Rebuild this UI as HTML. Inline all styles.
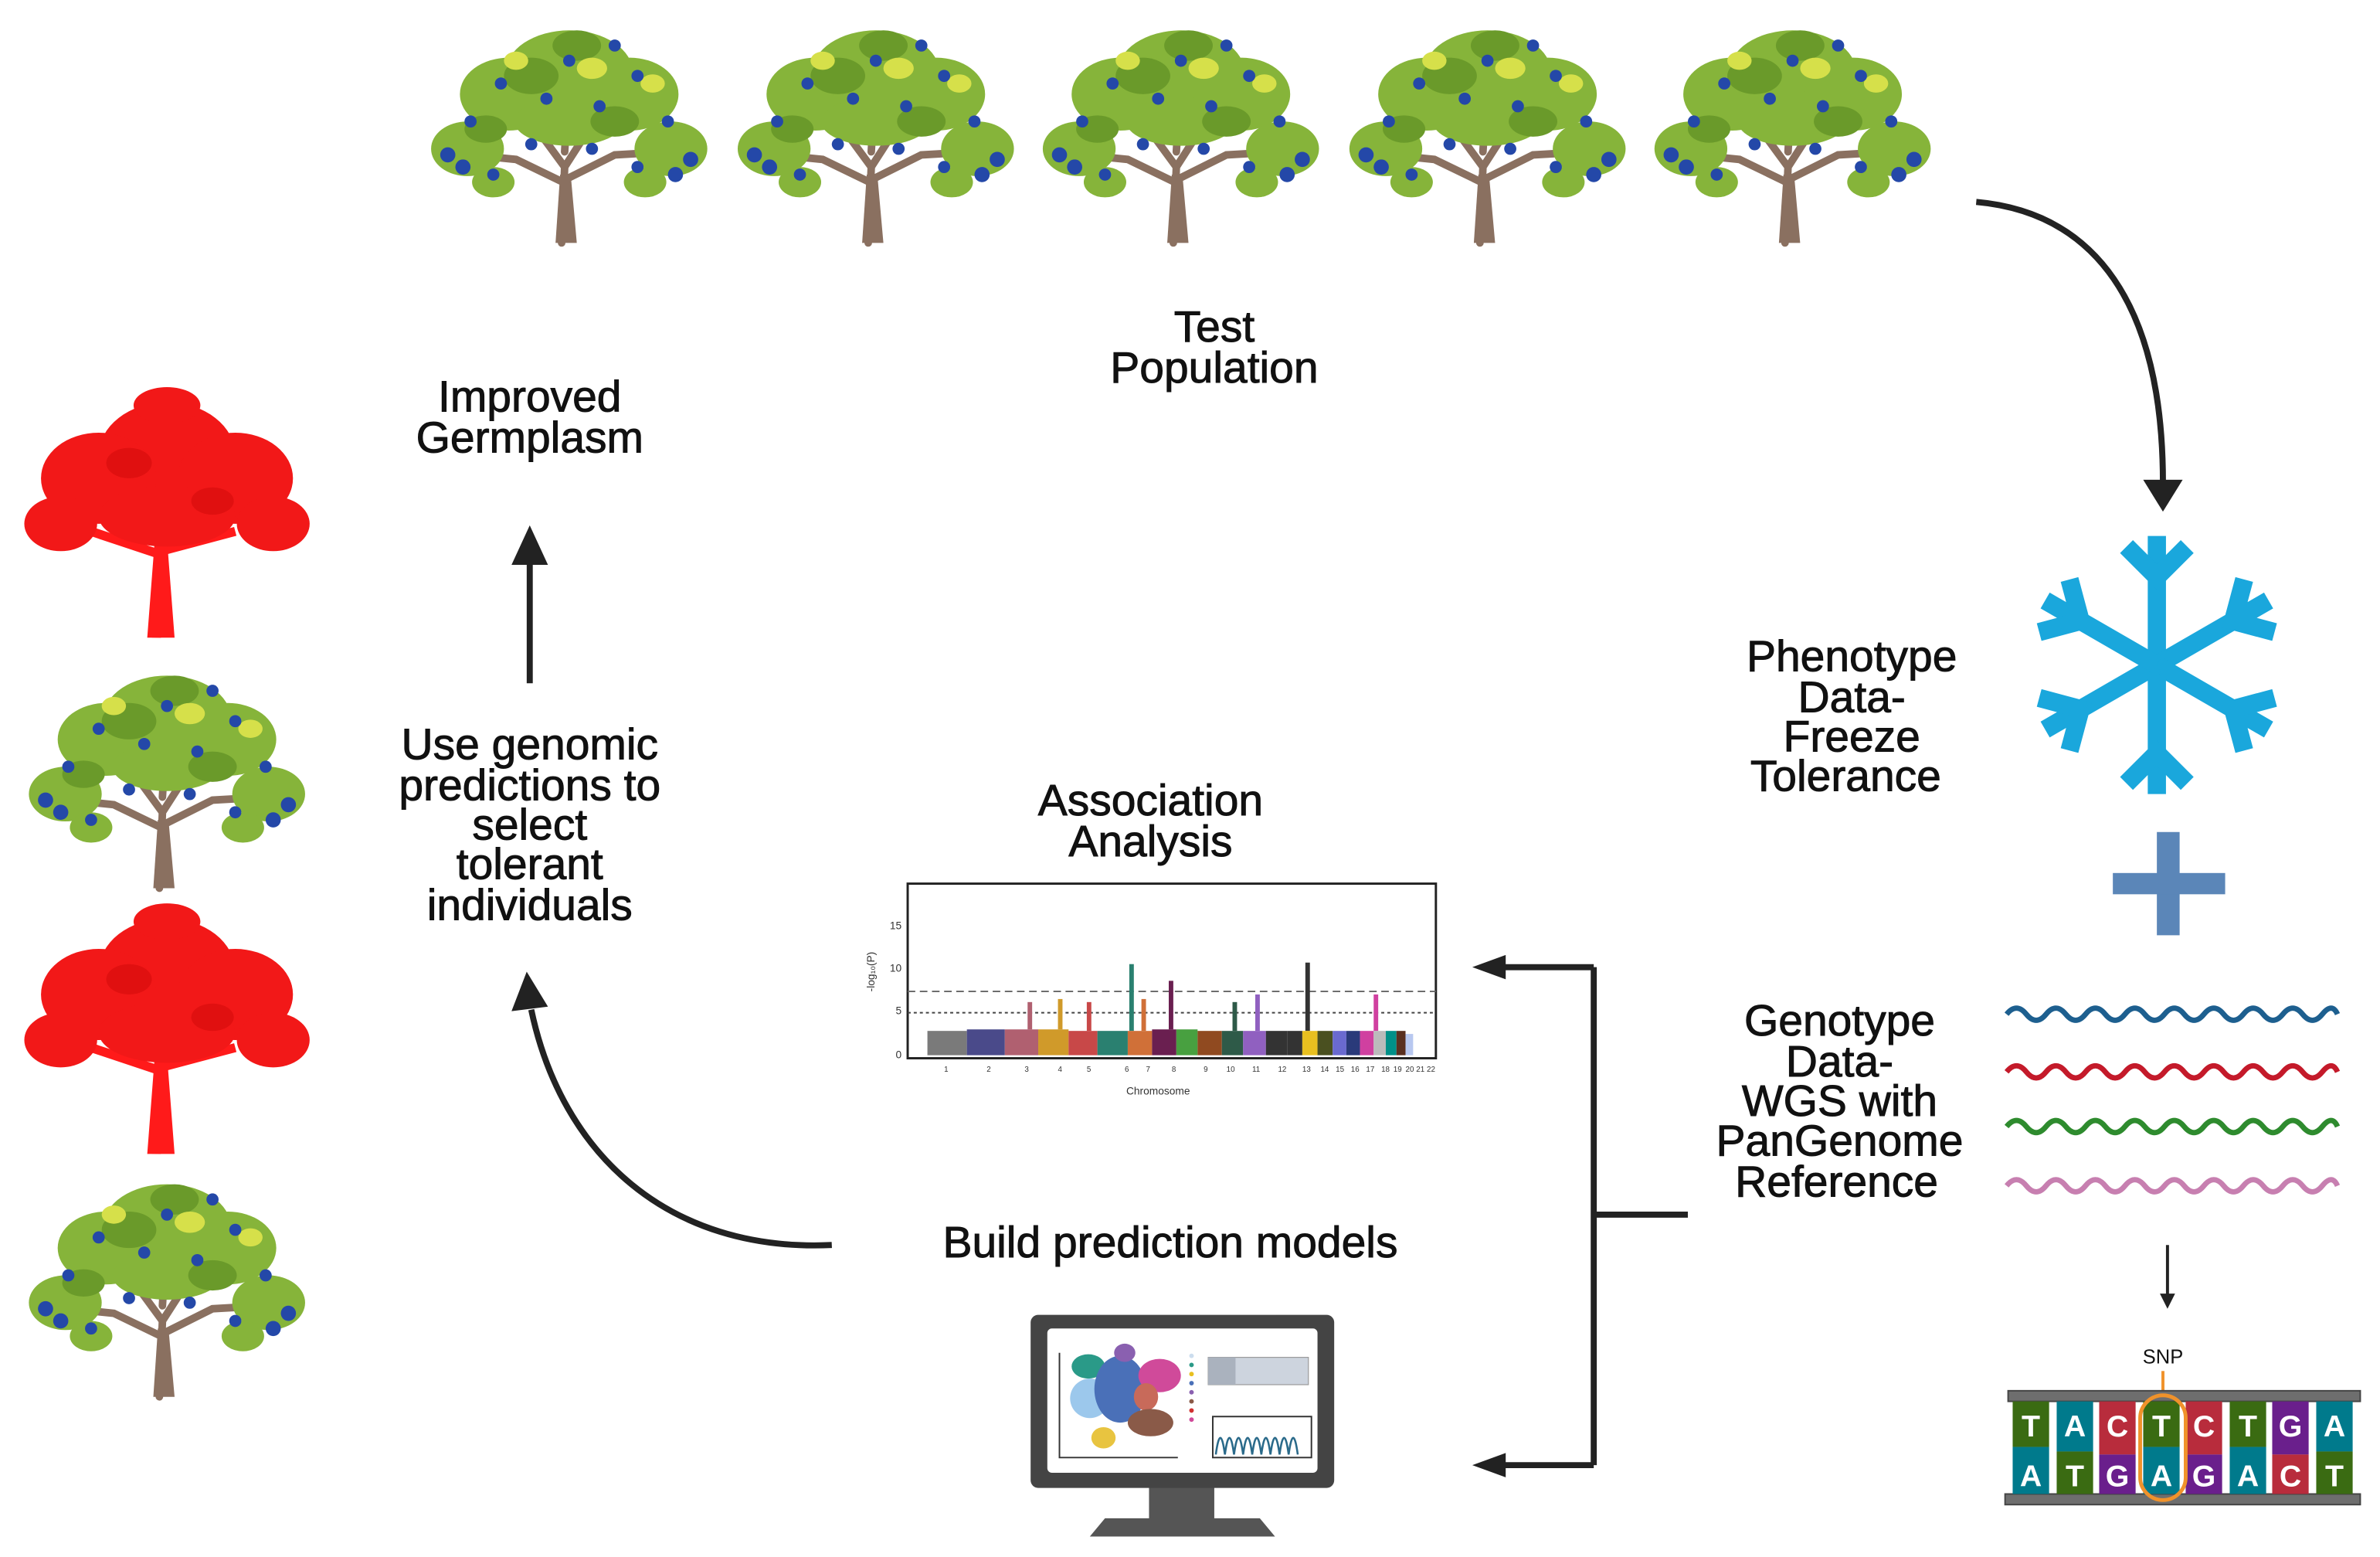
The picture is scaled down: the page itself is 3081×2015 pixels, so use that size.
<!DOCTYPE html>
<html><head><meta charset="utf-8"><style>
html,body{margin:0;padding:0;background:#fff}
svg{display:block}
text{font-family:"Liberation Sans",Arial,sans-serif}
</style></head><body>
<svg width="3081" height="2015" viewBox="0 0 1568 1025.5" xmlns="http://www.w3.org/2000/svg">
<defs>
<g id="tree">
 <path d="M90 150 L92 100 L70 70 L50 55 M92 100 L110 72 L135 55 M91 110 L60 95 L30 92 M93 108 L125 92 L160 90 M92 90 L95 40" stroke="#8a7060" stroke-width="5" fill="none" stroke-linecap="round"/>
 <path d="M86 150 L89 105 L96 105 L100 150 Z" fill="#8a7060"/>
 <g fill="#86b43a">
  <ellipse cx="95" cy="38" rx="42" ry="28"/><ellipse cx="55" cy="52" rx="32" ry="24"/><ellipse cx="135" cy="52" rx="32" ry="24"/>
  <ellipse cx="28" cy="88" rx="24" ry="18"/><ellipse cx="162" cy="88" rx="24" ry="18"/><ellipse cx="95" cy="70" rx="36" ry="16"/>
  <ellipse cx="45" cy="110" rx="14" ry="10"/><ellipse cx="145" cy="110" rx="14" ry="10"/>
 </g>
 <g fill="#6a9a2a"><ellipse cx="70" cy="40" rx="18" ry="12"/><ellipse cx="125" cy="70" rx="16" ry="10"/><ellipse cx="40" cy="75" rx="14" ry="9"/><ellipse cx="100" cy="20" rx="16" ry="10"/></g>
 <g fill="#d6e04a"><ellipse cx="110" cy="35" rx="10" ry="7"/><ellipse cx="60" cy="30" rx="8" ry="6"/><ellipse cx="150" cy="45" rx="8" ry="6"/></g>
 <g fill="#2448a8"><circle cx="15" cy="92" r="5"/><circle cx="25" cy="100" r="5"/><circle cx="175" cy="95" r="5"/><circle cx="165" cy="105" r="5"/><circle cx="45" cy="105" r="4"/><circle cx="140" cy="100" r="4"/><circle cx="80" cy="55" r="4"/><circle cx="115" cy="60" r="4"/><circle cx="95" cy="30" r="4"/><circle cx="50" cy="45" r="4"/><circle cx="140" cy="40" r="4"/><circle cx="125" cy="20" r="4"/><circle cx="30" cy="70" r="4"/><circle cx="160" cy="70" r="4"/><circle cx="70" cy="85" r="4"/><circle cx="110" cy="88" r="4"/></g>
</g>
<g id="redtree">
 <path d="M88 165 L90 100 L65 70 M90 100 L115 70 M90 110 L45 95 M91 108 L140 95" stroke="#ff1a1a" stroke-width="6" fill="none"/>
 <path d="M82 165 L87 100 L95 100 L100 165 Z" fill="#ff1a1a"/>
 <g fill="#f21818">
  <ellipse cx="95" cy="45" rx="45" ry="35"/><ellipse cx="50" cy="60" rx="38" ry="30"/><ellipse cx="140" cy="60" rx="38" ry="30"/>
  <ellipse cx="25" cy="90" rx="24" ry="18"/><ellipse cx="165" cy="90" rx="24" ry="18"/><ellipse cx="95" cy="85" rx="45" ry="20"/><ellipse cx="95" cy="12" rx="22" ry="12"/>
 </g>
 <g fill="#e01010"><ellipse cx="70" cy="50" rx="15" ry="10"/><ellipse cx="125" cy="75" rx="14" ry="9"/></g>
</g>
</defs>

<use href="#tree" x="280" y="10"/><use href="#tree" x="482" y="10"/><use href="#tree" x="683" y="10"/><use href="#tree" x="885" y="10"/><use href="#tree" x="1086" y="10"/>
<use href="#redtree" x="15" y="255"/>
<use href="#tree" x="15" y="435"/>
<use href="#redtree" x="15" y="595"/>
<use href="#tree" x="15" y="770"/>

<g font-size="29" fill="#111" text-anchor="middle" stroke="#111" stroke-width="0.5">
 <text x="800" y="225">Test</text><text x="800" y="252">Population</text>
 <text x="349" y="271">Improved</text><text x="349" y="298">Germplasm</text>
 <text x="349" y="500">Use genomic</text><text x="349" y="527">predictions to</text><text x="349" y="553">select</text><text x="349" y="579">tolerant</text><text x="349" y="606">individuals</text>
 <text x="758" y="537">Association</text><text x="758" y="564">Analysis</text>
 <text x="771" y="828">Build prediction models</text>
 <text x="1220" y="442">Phenotype</text><text x="1220" y="469">Data-</text><text x="1220" y="495">Freeze</text><text x="1216" y="521">Tolerance</text>
 <text x="1212" y="682">Genotype</text><text x="1212" y="709">Data-</text><text x="1212" y="735">WGS with</text><text x="1212" y="761">PanGenome</text><text x="1210" y="788">Reference</text>
</g>

<g stroke="#222" stroke-width="4" fill="none">
 <path d="M1302 133 C1380 140 1425 200 1425 318"/>
 <line x1="349" y1="450" x2="349" y2="370"/>
 <path d="M548 820 C440 825 370 760 350 665"/>
 <path d="M1050 637 L1050 965 M1050 637 L990 637 M1050 965 L990 965 M1050 800 L1112 800"/>
</g>
<g fill="#222">
 <path d="M1412 316 L1438 316 L1425 337 Z"/>
 <path d="M337 372 L361 372 L349 346 Z"/>
 <path d="M337 666 L361 663 L347 640 Z"/>
 <path d="M992 629 L992 645 L970 637 Z"/>
 <path d="M992 957 L992 973 L970 965 Z"/>
 <path d="M1423 852 L1433 852 L1428 862 Z"/>
</g>
<line x1="1428" y1="820" x2="1428" y2="855" stroke="#222" stroke-width="2"/>

<g stroke="#1aa7dc" stroke-width="12" stroke-linecap="butt" fill="none" transform="translate(1421,438)">
 <g id="arm"><line x1="0" y1="0" x2="0" y2="-85"/><path d="M-20 -78 L0 -58 L20 -78"/></g>
 <use href="#arm" transform="rotate(60)"/><use href="#arm" transform="rotate(120)"/><use href="#arm" transform="rotate(180)"/><use href="#arm" transform="rotate(240)"/><use href="#arm" transform="rotate(300)"/>
</g>
<rect x="1421" y="548" width="15" height="68" fill="#5b86b8"/>
<rect x="1392" y="575" width="74" height="14" fill="#5b86b8"/>

<g fill="none" stroke-width="3.5">
 <path stroke="#1d5f8f" d="M1322 668 q6.5 -8 13 0 t13 0 t13 0 t13 0 t13 0 t13 0 t13 0 t13 0 t13 0 t13 0 t13 0 t13 0 t13 0 t13 0 t13 0 t13 0 t10 0"/>
 <path stroke="#c41a2a" d="M1322 706 q6.5 -8 13 0 t13 0 t13 0 t13 0 t13 0 t13 0 t13 0 t13 0 t13 0 t13 0 t13 0 t13 0 t13 0 t13 0 t13 0 t13 0 t10 0"/>
 <path stroke="#2e8b2e" d="M1322 742 q6.5 -8 13 0 t13 0 t13 0 t13 0 t13 0 t13 0 t13 0 t13 0 t13 0 t13 0 t13 0 t13 0 t13 0 t13 0 t13 0 t13 0 t10 0"/>
 <path stroke="#c77fb0" d="M1322 781 q6.5 -8 13 0 t13 0 t13 0 t13 0 t13 0 t13 0 t13 0 t13 0 t13 0 t13 0 t13 0 t13 0 t13 0 t13 0 t13 0 t13 0 t10 0"/>
</g>

<text x="1425" y="898" font-size="13" text-anchor="middle" fill="#111">SNP</text>
<line x1="1425" y1="903" x2="1425" y2="918" stroke="#f0922b" stroke-width="2"/>
<rect x="1323" y="916" width="232" height="7" fill="#6e6e6e" stroke="#444" stroke-width="1"/>
<rect x="1321" y="984" width="234" height="7" fill="#6e6e6e" stroke="#444" stroke-width="1"/>
<g font-size="20" fill="#fff" text-anchor="middle" font-weight="bold">
 <rect x="1326" y="923" width="24" height="30" fill="#3a6b12"/><text x="1338" y="946">T</text><rect x="1326" y="953" width="24" height="31" fill="#007a8c"/><text x="1338" y="979">A</text>
 <rect x="1355" y="923" width="24" height="33" fill="#007a8c"/><text x="1367" y="946">A</text><rect x="1355" y="956" width="24" height="28" fill="#3a6b12"/><text x="1367" y="979">T</text>
 <rect x="1383" y="923" width="24" height="35" fill="#b82c3c"/><text x="1395" y="946">C</text><rect x="1383" y="958" width="24" height="26" fill="#6a1f8c"/><text x="1395" y="979">G</text>
 <rect x="1412" y="923" width="24" height="30" fill="#3a6b12"/><text x="1424" y="946">T</text><rect x="1412" y="953" width="24" height="31" fill="#007a8c"/><text x="1424" y="979">A</text>
 <rect x="1440" y="923" width="24" height="35" fill="#b82c3c"/><text x="1452" y="946">C</text><rect x="1440" y="958" width="24" height="26" fill="#6a1f8c"/><text x="1452" y="979">G</text>
 <rect x="1469" y="923" width="24" height="30" fill="#3a6b12"/><text x="1481" y="946">T</text><rect x="1469" y="953" width="24" height="31" fill="#007a8c"/><text x="1481" y="979">A</text>
 <rect x="1497" y="923" width="24" height="35" fill="#6a1f8c"/><text x="1509" y="946">G</text><rect x="1497" y="958" width="24" height="26" fill="#b82c3c"/><text x="1509" y="979">C</text>
 <rect x="1526" y="923" width="24" height="33" fill="#007a8c"/><text x="1538" y="946">A</text><rect x="1526" y="956" width="24" height="28" fill="#3a6b12"/><text x="1538" y="979">T</text>
</g>
<rect x="1410" y="919" width="30" height="69" rx="15" fill="none" stroke="#f0922b" stroke-width="2.5"/>

<rect x="598" y="582" width="348" height="115" fill="#fff" stroke="#222" stroke-width="1.5"/>
<g font-size="7" fill="#333" text-anchor="end">
 <text x="594" y="612">15</text><text x="594" y="640">10</text><text x="594" y="668">5</text><text x="594" y="697">0</text>
</g>
<text x="576" y="640" font-size="7" fill="#333" transform="rotate(-90 576 640)" text-anchor="middle">-log₁₀(P)</text>
<line x1="598" y1="653" x2="946" y2="653" stroke="#666" stroke-dasharray="5 3"/>
<line x1="598" y1="667" x2="946" y2="667" stroke="#444" stroke-dasharray="2 2"/>
<g>
 <rect x="611" y="679" width="26" height="16" fill="#7a7a7a"/>
 <rect x="637" y="678" width="25" height="17" fill="#4a4a8a"/>
 <rect x="662" y="678" width="22" height="17" fill="#b06070"/><rect x="677" y="660" width="3" height="18" fill="#b06070"/>
 <rect x="684" y="678" width="20" height="17" fill="#d09a2a"/><rect x="697" y="658" width="3" height="20" fill="#d09a2a"/>
 <rect x="704" y="679" width="19" height="16" fill="#c84848"/><rect x="716" y="660" width="3" height="19" fill="#c84848"/>
 <rect x="723" y="679" width="20" height="16" fill="#2a8070"/><rect x="744" y="635" width="3" height="44" fill="#2a8070"/>
 <rect x="743" y="679" width="16" height="16" fill="#d07038"/><rect x="752" y="658" width="3" height="21" fill="#d07038"/>
 <rect x="759" y="678" width="16" height="17" fill="#6a1f50"/><rect x="770" y="646" width="3" height="32" fill="#6a1f50"/>
 <rect x="775" y="678" width="14" height="17" fill="#48a040"/>
 <rect x="789" y="679" width="16" height="16" fill="#904a20"/>
 <rect x="805" y="679" width="14" height="16" fill="#2e5a48"/><rect x="812" y="660" width="3" height="19" fill="#2e5a48"/>
 <rect x="819" y="679" width="15" height="16" fill="#9060c0"/><rect x="827" y="655" width="3" height="24" fill="#9060c0"/>
 <rect x="834" y="679" width="14" height="16" fill="#333"/><rect x="860" y="634" width="3" height="45" fill="#333"/>
 <rect x="848" y="679" width="10" height="16" fill="#333"/>
 <rect x="858" y="679" width="10" height="16" fill="#e8c020"/>
 <rect x="868" y="679" width="10" height="16" fill="#4a5020"/>
 <rect x="878" y="679" width="9" height="16" fill="#6a6ad0"/>
 <rect x="887" y="679" width="9" height="16" fill="#2a3a7a"/>
 <rect x="896" y="679" width="9" height="16" fill="#d040a0"/><rect x="905" y="655" width="3" height="24" fill="#d040a0"/>
 <rect x="905" y="679" width="8" height="16" fill="#bbb"/>
 <rect x="913" y="679" width="7" height="16" fill="#009088"/>
 <rect x="920" y="679" width="6" height="16" fill="#5a3020"/>
 <rect x="926" y="681" width="5" height="14" fill="#b8c8f0"/>
</g>
<text x="763" y="721" font-size="7" fill="#333" text-anchor="middle">Chromosome</text>
<g font-size="5" fill="#333"><text x="622" y="706">1</text><text x="650" y="706">2</text><text x="675" y="706">3</text><text x="697" y="706">4</text><text x="716" y="706">5</text><text x="741" y="706">6</text><text x="755" y="706">7</text><text x="772" y="706">8</text><text x="793" y="706">9</text><text x="808" y="706">10</text><text x="825" y="706">11</text><text x="842" y="706">12</text><text x="858" y="706">13</text><text x="870" y="706">14</text><text x="880" y="706">15</text><text x="890" y="706">16</text><text x="900" y="706">17</text><text x="910" y="706">18</text><text x="918" y="706">19</text><text x="926" y="706">20</text><text x="933" y="706">21</text><text x="940" y="706">22</text></g>

<path d="M757 978 L800 978 L800 1000 L830 1000 L840 1012 L718 1012 L728 1000 L757 1000 Z" fill="#555"/>
<rect x="679" y="866" width="200" height="114" rx="5" fill="#444"/>
<rect x="690" y="875" width="178" height="95" rx="3" fill="#fff"/>
<path d="M698 891 L698 960 L776 960" stroke="#333" stroke-width="1" fill="none"/>
<g>
 <ellipse cx="717" cy="900" rx="11" ry="8" fill="#2a9a88"/>
 <ellipse cx="718" cy="921" rx="13" ry="13" fill="#9cc8ec"/>
 <ellipse cx="738" cy="915" rx="17" ry="22" fill="#4a70b8"/>
 <ellipse cx="764" cy="906" rx="14" ry="11" fill="#d04a9a"/>
 <ellipse cx="755" cy="920" rx="8" ry="9" fill="#c86a5a"/>
 <ellipse cx="758" cy="937" rx="15" ry="9" fill="#8a5a48"/>
 <ellipse cx="727" cy="947" rx="8" ry="7" fill="#e8c440"/>
 <ellipse cx="741" cy="891" rx="7" ry="6" fill="#8a60b0"/>
</g>
<g><circle cx="785" cy="893" r="1.5" fill="#cde"/><circle cx="785" cy="899" r="1.5" fill="#2a9a88"/><circle cx="785" cy="905" r="1.5" fill="#e8c020"/><circle cx="785" cy="911" r="1.5" fill="#4a70b8"/><circle cx="785" cy="917" r="1.5" fill="#8a60b0"/><circle cx="785" cy="923" r="1.5" fill="#8a5a48"/><circle cx="785" cy="929" r="1.5" fill="#d03030"/><circle cx="785" cy="935" r="1.5" fill="#d04a9a"/></g>
<rect x="796" y="894" width="66" height="18" fill="#cdd4de" stroke="#999" stroke-width="0.6"/>
<rect x="796" y="894" width="18" height="18" fill="#aab2be"/>
<rect x="799" y="933" width="65" height="27" fill="#fff" stroke="#333" stroke-width="1"/>
<path d="M801 958 q3 -22 6 0 q3 -22 6 0 q3 -22 6 0 q3 -22 6 0 q3 -22 6 0 q3 -22 6 0 q3 -22 6 0 q3 -22 6 0 q3 -22 6 0" stroke="#2a6a8a" stroke-width="1.3" fill="none"/>
</svg>
</body></html>
